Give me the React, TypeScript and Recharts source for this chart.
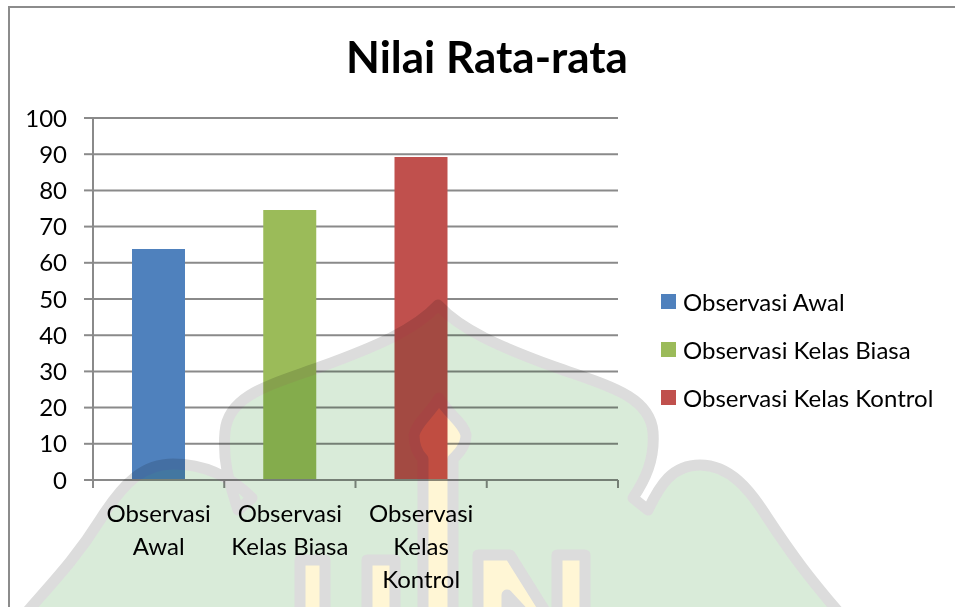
import { BarChart, Bar, XAxis, YAxis, CartesianGrid, Legend } from "recharts";

const categories = ["Observasi Awal", "Observasi Kelas Biasa", "Observasi Kelas Kontrol", ""];
const categoryLines = [["Observasi", "Awal"], ["Observasi", "Kelas Biasa"], ["Observasi", "Kelas", "Kontrol"], []];
const awalValues = [63.8, null, null, null];
const biasaValues = [null, 74.6, null, null];
const kontrolValues = [null, null, 89.2, null];
const yTicks = [0, 10, 20, 30, 40, 50, 60, 70, 80, 90, 100];

const data = categories.map((name, i) => ({
  name,
  awal: awalValues[i],
  biasa: biasaValues[i],
  kontrol: kontrolValues[i],
}));

const FONT = "Lato, 'Open Sans', sans-serif";
const GRID = "#8a8a8a";
const BAND = 131.25;

function CategoryTick({ x, y, index }: any) {
  return (
    <g>
      <line x1={x - BAND / 2} x2={x - BAND / 2} y1={y} y2={y + 8} stroke={GRID} strokeWidth={2} />
      {index === categories.length - 1 && (
        <line x1={x + BAND / 2} x2={x + BAND / 2} y1={y} y2={y + 8} stroke={GRID} strokeWidth={2} />
      )}
      <text textAnchor="middle" fontSize={24} fontFamily={FONT} fill="#000">
        {categoryLines[index].map((line, i) => (
          <tspan key={line} x={x} y={y + 42 + i * 33}>
            {line}
          </tspan>
        ))}
      </text>
    </g>
  );
}

function LegendRows({ payload }: any) {
  return (
    <div style={{ fontFamily: FONT, fontSize: 24, color: "#000" }}>
      {(payload || []).map((item: any) => (
        <div key={item.value} style={{ height: 48, display: "flex", alignItems: "center", whiteSpace: "nowrap" }}>
          <span style={{ width: 15, height: 15, background: item.color, marginRight: 7 }} />
          {item.value}
        </div>
      ))}
    </div>
  );
}

// faint logo that lies over the whole page in the source document
function Watermark() {
  const line = { stroke: "#dcdcdc", strokeWidth: 11, strokeLinejoin: "round" as const };
  return (
    <svg width={955} height={607} style={{ position: "absolute", left: 0, top: 0, mixBlendMode: "multiply" }}>
      <path
        d="M20,620 C50,585 75,560 100,520 C125,480 145,464 173,464 C205,464 232,478 252,498 L238,510 C232,490 222,465 225,432 C228,395 270,385 320,367 C375,347 415,330 438,305 C461,330 500,347 555,367 C605,385 650,395 653,432 C655,460 645,480 633,498 L648,510 C660,485 672,465 700,465 C730,465 750,490 767,517 C790,552 810,580 850,625 Z"
        fill="#d9ebd9"
        {...line}
      />
      <path d="M300,620 V560 H325 V620 Z M367,620 V560 H395 V620 Z" fill="#fff6d5" {...line} />
      <path d="M478,650 V555 H510 L557,630 V555 H585 V650 H558 L507,595 V650 Z" fill="#fff6d5" {...line} />
      <path
        d="M423,620 V459 C418,454 414,446 414,435 C416,423 430,414 439,398 C448,414 464,423 466,435 C466,446 458,454 453,459 V620 Z"
        fill="#fff6d5"
        {...line}
      />
    </svg>
  );
}

export default function App() {
  return (
    <div style={{ position: "absolute", left: 0, top: 0, width: 955, height: 607, overflow: "hidden", background: "#fff" }}>
      <div style={{ position: "absolute", left: 8, top: 6, width: 1000, height: 700, borderLeft: "2px solid #8c8c8c", borderTop: "2px solid #8c8c8c" }} />
      <BarChart
        width={955}
        height={607}
        data={data}
        barSize={53}
        margin={{ top: 118, right: 337, bottom: 0, left: 0 }}
        style={{ position: "absolute", left: 0, top: 0 }}
      >
        <text x={487} y={73} textAnchor="middle" fontFamily={FONT} fontWeight={700} fontSize={44} fill="#000">
          Nilai Rata-rata
        </text>
        <CartesianGrid horizontal vertical={false} stroke={GRID} strokeWidth={2} />
        <XAxis
          dataKey="name"
          height={127}
          interval={0}
          tick={<CategoryTick />}
          tickLine={false}
          tickSize={0}
          tickMargin={0}
          axisLine={{ stroke: GRID, strokeWidth: 2 }}
        />
        <YAxis
          width={93}
          domain={[0, 100]}
          ticks={yTicks}
          interval={0}
          tickSize={9}
          tickMargin={17}
          tickLine={{ stroke: GRID, strokeWidth: 2 }}
          axisLine={{ stroke: GRID, strokeWidth: 2 }}
          tick={{ fontSize: 24, fontFamily: FONT, fill: "#000" }}
        />
        <Legend
          layout="vertical"
          align="center"
          verticalAlign="middle"
          content={<LegendRows />}
          wrapperStyle={{ left: 661, top: 277, width: 294 }}
        />
        <Bar dataKey="awal" name="Observasi Awal" stackId="a" fill="#4f81bd" isAnimationActive={false} />
        <Bar dataKey="biasa" name="Observasi Kelas Biasa" stackId="a" fill="#9bbb59" isAnimationActive={false} />
        <Bar dataKey="kontrol" name="Observasi Kelas Kontrol" stackId="a" fill="#c0504d" isAnimationActive={false} />
      </BarChart>
      <Watermark />
    </div>
  );
}
